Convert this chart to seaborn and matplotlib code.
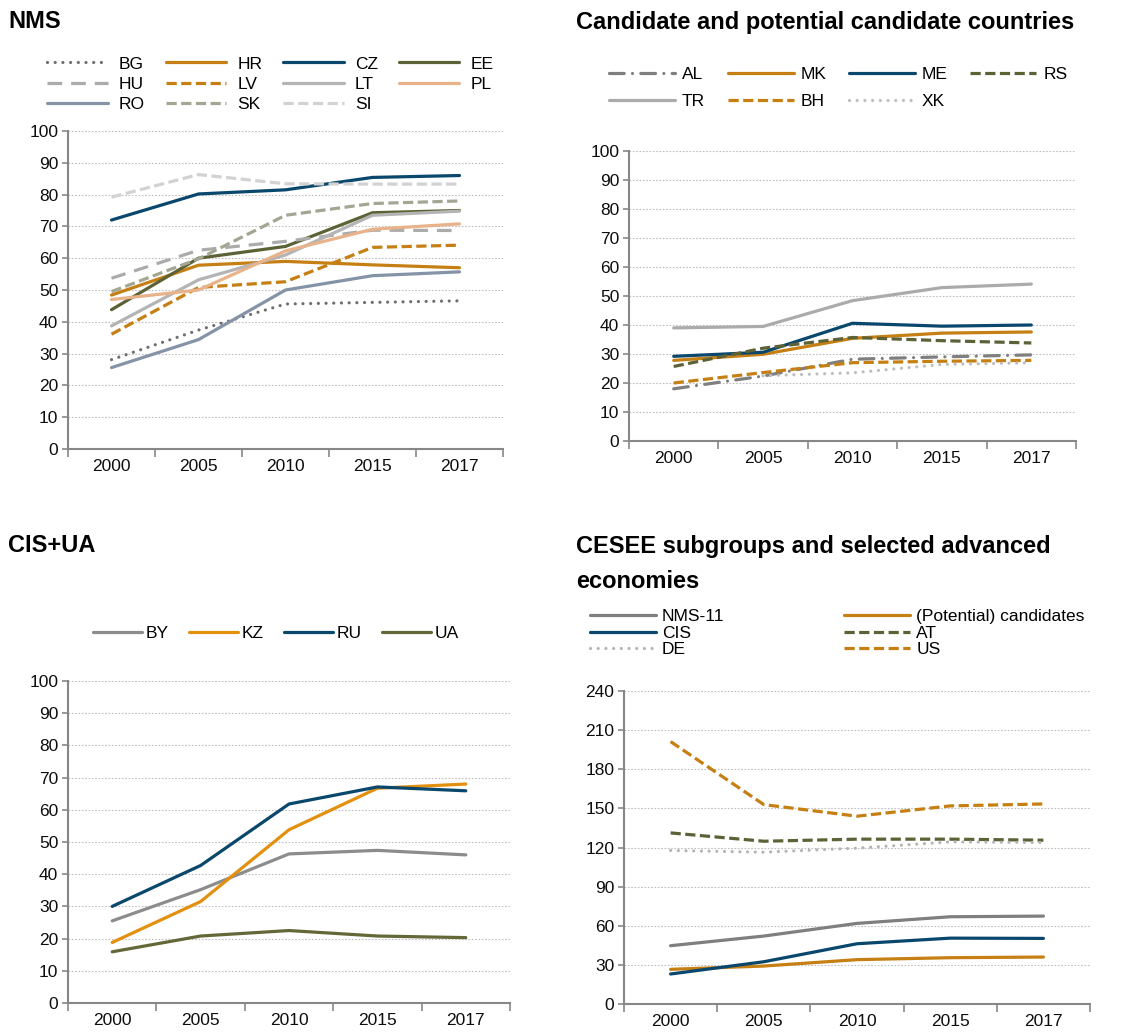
import numpy as np
import pandas as pd
import matplotlib
matplotlib.use("Agg")
import matplotlib.pyplot as plt
from matplotlib.ticker import FixedLocator
import seaborn as sns

# ---------------- data ----------------
years = ["2000", "2005", "2010", "2015", "2017"]

# NMS
nms_names = ["BG", "HR", "CZ", "EE", "HU", "LV", "LT", "PL", "RO", "SK", "SI"]
BG = [28.1, 37.4, 45.6, 46.1, 46.6]
HR = [48.4, 57.8, 59.0, 57.9, 57.0]
CZ = [72.0, 80.2, 81.5, 85.4, 86.0]
EE = [43.8, 60.0, 63.7, 74.3, 75.0]
HU = [53.7, 62.5, 65.3, 68.8, 68.7]
LV = [36.1, 50.8, 52.6, 63.4, 64.1]
LT = [38.7, 53.2, 61.0, 73.5, 74.8]
PL = [47.0, 50.0, 62.3, 69.1, 70.8]
RO = [25.6, 34.4, 50.0, 54.5, 55.7]
SK = [49.5, 59.8, 73.5, 77.2, 78.0]
SI = [79.2, 86.3, 83.4, 83.3, 83.3]

# Candidate and potential candidate countries
cand_names = ["AL", "MK", "ME", "RS", "TR", "BH", "XK"]
AL = [18.0, 22.4, 28.2, 29.0, 29.7]
MK = [27.8, 29.9, 35.4, 37.2, 37.6]
ME = [29.2, 30.6, 40.6, 39.6, 40.0]
RS = [25.7, 32.0, 35.7, 34.6, 33.8]
TR = [39.0, 39.5, 48.4, 52.9, 54.1]
BH = [20.0, 23.6, 27.0, 27.5, 27.8]
XK = [np.nan, 22.5, 23.5, 26.4, 27.0]

# CIS+UA
cis_names = ["BY", "KZ", "RU", "UA"]
BY = [25.5, 35.2, 46.3, 47.4, 46.0]
KZ = [18.8, 31.5, 53.8, 66.7, 68.0]
RU = [30.0, 42.7, 61.8, 67.1, 65.9]
UA = [15.9, 20.8, 22.5, 20.8, 20.3]

# CESEE subgroups and selected advanced economies
grp_names = ["NMS-11", "(Potential) candidates", "CIS", "AT", "DE", "US"]
NMS11 = [44.7, 52.1, 61.8, 66.9, 67.4]
CANDS = [26.6, 29.1, 34.0, 35.5, 36.0]
CIS = [23.0, 32.4, 46.2, 50.5, 50.3]
AT = [131.2, 124.8, 126.4, 126.4, 125.6]
DE = [117.7, 116.4, 119.5, 124.3, 123.8]
US = [201.2, 152.9, 144.0, 151.9, 153.4]

# ---------------- styles ----------------
NAVY = "#0A476C"
ORANGE = "#C67F12"
OLIVE = "#5D6236"
SOLID = ""
DASH = (3.2, 1.4)
LONGDASH = (4.6, 2.8)
DOT = (0.01, 2.4)
DASHDOT = (4.6, 2.6, 0.01, 2.6)

nms_style = {
    "BG": ("#6E6E6E", DOT), "HR": (ORANGE, SOLID), "CZ": (NAVY, SOLID),
    "EE": (OLIVE, SOLID), "HU": ("#ABABAB", LONGDASH), "LV": (ORANGE, DASH),
    "LT": ("#B4B4B4", SOLID), "PL": ("#E8B38A", SOLID), "RO": ("#8593A6", SOLID),
    "SK": ("#A4A693", DASH), "SI": ("#D2D2D2", DASH),
}
cand_style = {
    "AL": ("#7F7F7F", DASHDOT), "MK": (ORANGE, SOLID), "ME": (NAVY, SOLID),
    "RS": (OLIVE, DASH), "TR": ("#ABABAB", SOLID), "BH": (ORANGE, DASH),
    "XK": ("#BDBDBD", DOT),
}
cis_style = {
    "BY": ("#8C8C8C", SOLID), "KZ": ("#E3900E", SOLID),
    "RU": (NAVY, SOLID), "UA": ("#646838", SOLID),
}
grp_style = {
    "NMS-11": ("#7F7F7F", SOLID), "(Potential) candidates": (ORANGE, SOLID),
    "CIS": (NAVY, SOLID), "AT": (OLIVE, DASH), "DE": ("#B4B4B4", DOT),
    "US": (ORANGE, DASH),
}

sns.set_theme(style="white")
plt.rcParams["font.family"] = ["Liberation Sans", "DejaVu Sans"]
plt.rcParams["text.color"] = "black"

W, H = 1128, 1035
fig = plt.figure(figsize=(W / 100, H / 100), dpi=100)

SPINE = "#878787"
LW = 2.3
LEGFS = 12.5
TICKFS = 12.5
TITLEFS = 17


def fx(px):
    return px / W


def fy(py):
    return 1 - py / H


def panel(rect_px, names, series, style, yticks):
    l, t, r, b = rect_px
    ax = fig.add_axes([fx(l), fy(b), fx(r) - fx(l), fy(t) - fy(b)])
    rows = []
    for n, vals in zip(names, series):
        for yr, v in zip(years, vals):
            if not np.isnan(v):
                rows.append({"year": yr, "value": v, "series": n})
    df = pd.DataFrame(rows)
    sns.lineplot(data=df, x="year", y="value", hue="series", style="series",
                 hue_order=names, style_order=names,
                 palette={n: style[n][0] for n in names},
                 dashes={n: style[n][1] for n in names},
                 errorbar=None, legend=False, ax=ax, linewidth=LW, sort=False)
    lines = ax.get_lines()[:len(names)]
    for n, ln in zip(names, lines):
        if style[n][1] in (DOT, DASHDOT):
            ln.set_dash_capstyle("round")
    ax.set_xlim(-0.5, len(years) - 0.5)
    ax.set_ylim(yticks[0], yticks[-1])
    ax.set_yticks(yticks)
    ax.set_yticklabels([str(v) for v in yticks])
    ax.xaxis.set_minor_locator(FixedLocator(np.arange(-0.5, len(years), 1.0)))
    ax.tick_params(axis="x", which="major", length=0, pad=7,
                   labelsize=TICKFS, labelcolor="#0d0d0d")
    ax.tick_params(axis="x", which="minor", length=6, width=1.2,
                   color=SPINE, direction="out", bottom=True)
    ax.tick_params(axis="y", length=4, width=1.2, color=SPINE, direction="out",
                   left=True, pad=3, labelsize=TICKFS, labelcolor="#0d0d0d")
    ax.set_xlabel("")
    ax.set_ylabel("")
    for s in ["top", "right"]:
        ax.spines[s].set_visible(False)
    for s in ["left", "bottom"]:
        ax.spines[s].set_color(SPINE)
        ax.spines[s].set_linewidth(1.5)
    ax.yaxis.grid(True, color="#BEBEBE", linestyle=(0, (1.5, 1.5)),
                  linewidth=0.8)
    ax.set_axisbelow(True)
    return ax, lines


def row_major(items, ncol):
    """Reorder items so matplotlib's column-filling legend shows them row by row."""
    n = len(items)
    nrows, nlarge = divmod(n, ncol)
    rows_per_col = [nrows + 1] * nlarge + [nrows] * (ncol - nlarge)
    out = []
    for c, k in enumerate(rows_per_col):
        for r in range(k):
            out.append(items[r * ncol + c])
    return out


def legend(lines, names, x_px, y_px, ncol, handlelength, textpad, colsp,
           labelsp):
    hs = row_major(list(lines), ncol)
    ls = row_major(list(names), ncol)
    fig.legend(hs, ls, loc="center left",
               bbox_to_anchor=(fx(x_px), fy(y_px)), ncol=ncol,
               frameon=False, fontsize=LEGFS, handlelength=handlelength,
               handletextpad=textpad, columnspacing=colsp,
               labelspacing=labelsp, borderpad=0, borderaxespad=0)


# NMS
ax1, l1 = panel((68, 131, 503, 449), nms_names,
                [BG, HR, CZ, EE, HU, LV, LT, PL, RO, SK, SI], nms_style,
                list(range(0, 101, 10)))
legend(l1, nms_names, 47, 84, 4, 3.5, 0.63, 1.2, 0.28)
fig.text(fx(8), fy(22), "NMS", fontsize=TITLEFS, fontweight="bold",
         va="center", ha="left")

# Candidates
ax2, l2 = panel((629, 151, 1076, 441), cand_names,
                [AL, MK, ME, RS, TR, BH, XK], cand_style,
                list(range(0, 101, 10)))
legend(l2, cand_names, 609, 88, 4, 3.8, 0.4, 1.3, 0.7)
fig.text(fx(576), fy(22), "Candidate and potential candidate countries",
         fontsize=TITLEFS, fontweight="bold", va="center", ha="left")

# CIS+UA
ax3, l3 = panel((68, 681, 510, 1003), cis_names, [BY, KZ, RU, UA], cis_style,
                list(range(0, 101, 10)))
legend(l3, cis_names, 93, 633, 4, 2.8, 0.25, 1.15, 0.3)
fig.text(fx(8), fy(545), "CIS+UA", fontsize=TITLEFS, fontweight="bold",
         va="center", ha="left")

# CESEE subgroups
ax4, l4 = panel((624, 691, 1090, 1004), grp_names,
                [NMS11, CANDS, CIS, AT, DE, US], grp_style,
                list(range(0, 241, 30)))
legend(l4, grp_names, 590, 633, 2, 3.8, 0.35, 6.9, 0.1)
fig.text(fx(576), fy(564), "CESEE subgroups and selected advanced\neconomies",
         fontsize=TITLEFS, fontweight="bold", va="center", ha="left",
         linespacing=1.65)

fig.savefig("out.png", dpi=100)
